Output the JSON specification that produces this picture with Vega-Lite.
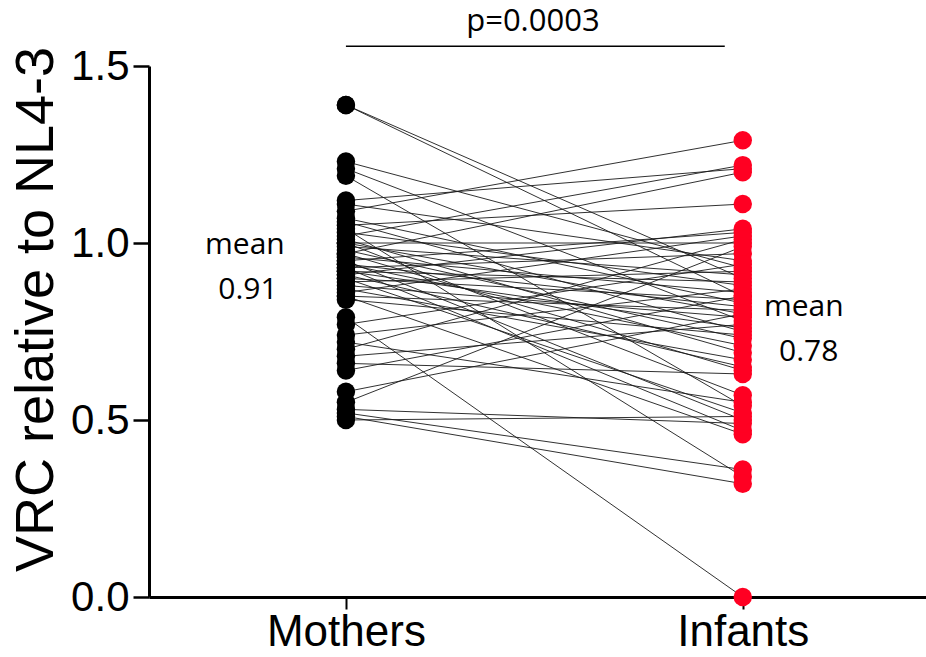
{
  "$schema": "https://vega.github.io/schema/vega-lite/v6.json",
  "width": 777,
  "height": 531,
  "autosize": "none",
  "padding": {"left": 149, "top": 66, "right": 0, "bottom": 60},
  "background": "white",
  "config": {"view": {"stroke": null}, "font": "Liberation Sans"},
  "layer": [
    {
      "data": {"name": "pairs"},
      "transform": [{"fold": ["Mothers", "Infants"], "as": ["group", "vrc"]}],
      "mark": {"type": "line", "stroke": "#1a1a1a", "strokeWidth": 0.9},
      "encoding": {
        "x": {
          "field": "group", "type": "nominal",
          "scale": {"type": "point", "domain": ["Mothers", "Infants"], "padding": 0.479, "align": 0.518},
          "axis": {
            "title": null, "labelAngle": 0, "labelFont": "Liberation Sans", "labelFontSize": 44,
            "labelColor": "black", "labelPadding": 1, "tickSize": 12, "tickWidth": 2, "tickColor": "black",
            "domainColor": "black", "domainWidth": 3, "grid": false
          }
        },
        "y": {
          "field": "vrc", "type": "quantitative",
          "scale": {"domain": [0, 1.5], "nice": false, "zero": true},
          "axis": {
            "title": "VRC relative to NL4-3", "titleFont": "Liberation Sans", "titleFontSize": 54,
            "titleFontWeight": "normal", "titleColor": "black", "titleBaseline": "alphabetic",
            "titleX": -97, "titleY": 243, "titleAngle": -90,
            "values": [0, 0.5, 1, 1.5], "format": ".1f",
            "labelFont": "Liberation Sans", "labelFontSize": 42, "labelColor": "black", "labelPadding": 4,
            "tickSize": 16, "tickWidth": 2.5, "tickColor": "black",
            "domainColor": "black", "domainWidth": 3, "grid": false
          }
        },
        "detail": {"field": "pair", "type": "nominal"}
      }
    },
    {
      "data": {"name": "pairs"},
      "transform": [{"fold": ["Mothers", "Infants"], "as": ["group", "vrc"]}],
      "mark": {"type": "point", "filled": true, "opacity": 1, "size": 340},
      "encoding": {
        "x": {"field": "group", "type": "nominal"},
        "y": {"field": "vrc", "type": "quantitative"},
        "color": {
          "field": "group", "type": "nominal",
          "scale": {"domain": ["Mothers", "Infants"], "range": ["#000000", "#ff0022"]},
          "legend": null
        }
      }
    },
    {
      "data": {"values": [{"label": "p=0.0003"}]},
      "mark": {"type": "rule", "stroke": "black", "strokeWidth": 1.5, "x2Offset": -18},
      "encoding": {
        "x": {"datum": "Mothers"},
        "x2": {"datum": "Infants"},
        "y": {"datum": 1.556}
      }
    },
    {
      "data": {"values": [{"label": "p=0.0003"}]},
      "mark": {"type": "text", "font": "Open Sans", "fontSize": 31, "color": "black", "align": "center", "baseline": "middle", "dx": 187},
      "encoding": {
        "x": {"datum": "Mothers"},
        "y": {"datum": 1.624},
        "text": {"field": "label"}
      }
    },
    {
      "data": {"values": [{"label": "mean"}]},
      "mark": {"type": "text", "font": "Open Sans", "fontSize": 30, "color": "black", "align": "center", "baseline": "middle", "dx": -101},
      "encoding": {"x": {"datum": "Mothers"}, "y": {"datum": 0.994}, "text": {"field": "label"}}
    },
    {
      "data": {"values": [{"label": "0.91"}]},
      "mark": {"type": "text", "font": "Open Sans", "fontSize": 30, "color": "black", "align": "center", "baseline": "middle", "dx": -98},
      "encoding": {"x": {"datum": "Mothers"}, "y": {"datum": 0.867}, "text": {"field": "label"}}
    },
    {
      "data": {"values": [{"label": "mean"}]},
      "mark": {"type": "text", "font": "Open Sans", "fontSize": 30, "color": "black", "align": "center", "baseline": "middle", "dx": 61},
      "encoding": {"x": {"datum": "Infants"}, "y": {"datum": 0.819}, "text": {"field": "label"}}
    },
    {
      "data": {"values": [{"label": "0.78"}]},
      "mark": {"type": "text", "font": "Open Sans", "fontSize": 30, "color": "black", "align": "center", "baseline": "middle", "dx": 66},
      "encoding": {"x": {"datum": "Infants"}, "y": {"datum": 0.692}, "text": {"field": "label"}}
    }
  ],
  "datasets": {
    "pairs": [
      {"pair": 1, "Mothers": 1.39, "Infants": 0.90},
      {"pair": 2, "Mothers": 1.39, "Infants": 0.85},
      {"pair": 3, "Mothers": 1.23, "Infants": 0.93},
      {"pair": 4, "Mothers": 1.21, "Infants": 0.78},
      {"pair": 5, "Mothers": 1.19, "Infants": 0.54},
      {"pair": 6, "Mothers": 1.12, "Infants": 1.21},
      {"pair": 7, "Mothers": 1.11, "Infants": 0.95},
      {"pair": 8, "Mothers": 1.09, "Infants": 1.29},
      {"pair": 9, "Mothers": 1.07, "Infants": 0.83},
      {"pair": 10, "Mothers": 1.06, "Infants": 0.75},
      {"pair": 11, "Mothers": 1.05, "Infants": 1.11},
      {"pair": 12, "Mothers": 1.04, "Infants": 0.34},
      {"pair": 13, "Mothers": 1.03, "Infants": 0.88},
      {"pair": 14, "Mothers": 1.02, "Infants": 1.22},
      {"pair": 15, "Mothers": 1.01, "Infants": 0.69},
      {"pair": 16, "Mothers": 1.00, "Infants": 1.00},
      {"pair": 17, "Mothers": 1.00, "Infants": 0.80},
      {"pair": 18, "Mothers": 1.00, "Infants": 0.57},
      {"pair": 19, "Mothers": 0.99, "Infants": 0.91},
      {"pair": 20, "Mothers": 0.98, "Infants": 0.73},
      {"pair": 21, "Mothers": 0.97, "Infants": 1.20},
      {"pair": 22, "Mothers": 0.97, "Infants": 0.64},
      {"pair": 23, "Mothers": 0.96, "Infants": 0.86},
      {"pair": 24, "Mothers": 0.95, "Infants": 1.03},
      {"pair": 25, "Mothers": 0.95, "Infants": 0.50},
      {"pair": 26, "Mothers": 0.94, "Infants": 0.82},
      {"pair": 27, "Mothers": 0.94, "Infants": 0.71},
      {"pair": 28, "Mothers": 0.93, "Infants": 0.97},
      {"pair": 29, "Mothers": 0.93, "Infants": 0.47},
      {"pair": 30, "Mothers": 0.92, "Infants": 0.89},
      {"pair": 31, "Mothers": 0.92, "Infants": 0.76},
      {"pair": 32, "Mothers": 0.91, "Infants": 1.04},
      {"pair": 33, "Mothers": 0.91, "Infants": 0.65},
      {"pair": 34, "Mothers": 0.90, "Infants": 0.84},
      {"pair": 35, "Mothers": 0.90, "Infants": 0.52},
      {"pair": 36, "Mothers": 0.89, "Infants": 0.92},
      {"pair": 37, "Mothers": 0.88, "Infants": 0.79},
      {"pair": 38, "Mothers": 0.87, "Infants": 0.67},
      {"pair": 39, "Mothers": 0.86, "Infants": 1.02},
      {"pair": 40, "Mothers": 0.85, "Infants": 0.81},
      {"pair": 41, "Mothers": 0.85, "Infants": 0.46},
      {"pair": 42, "Mothers": 0.84, "Infants": 0.74},
      {"pair": 43, "Mothers": 0.79, "Infants": 0.00},
      {"pair": 44, "Mothers": 0.77, "Infants": 0.94},
      {"pair": 45, "Mothers": 0.74, "Infants": 0.87},
      {"pair": 46, "Mothers": 0.72, "Infants": 0.55},
      {"pair": 47, "Mothers": 0.70, "Infants": 1.01},
      {"pair": 48, "Mothers": 0.68, "Infants": 0.77},
      {"pair": 49, "Mothers": 0.66, "Infants": 0.63},
      {"pair": 50, "Mothers": 0.64, "Infants": 0.85},
      {"pair": 51, "Mothers": 0.58, "Infants": 0.80},
      {"pair": 52, "Mothers": 0.55, "Infants": 0.99},
      {"pair": 53, "Mothers": 0.53, "Infants": 0.49},
      {"pair": 54, "Mothers": 0.52, "Infants": 0.36},
      {"pair": 55, "Mothers": 0.51, "Infants": 0.32},
      {"pair": 56, "Mothers": 0.50, "Infants": 0.51}
    ]
  }
}
